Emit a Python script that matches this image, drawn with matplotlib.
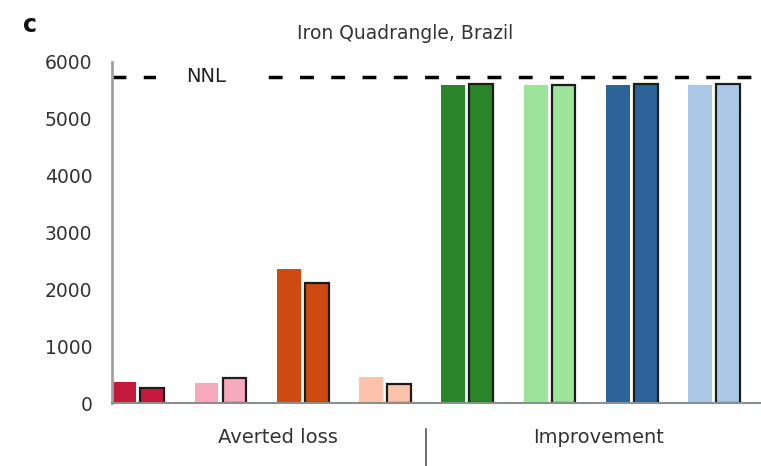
import matplotlib
matplotlib.use('Agg')
import matplotlib.pyplot as plt
import matplotlib.transforms as mtransforms
import numpy as np

# paired bars: first without outline, second outlined
groups = ['loss1', 'loss2', 'loss3', 'loss4', 'imp1', 'imp2', 'imp3', 'imp4']
first = [370, 350, 2350, 460, 5600, 5600, 5600, 5600]
second = [265, 440, 2120, 335, 5620, 5590, 5620, 5620]
colors = ['#c41a3c', '#f6a9ba', '#cd4a10', '#fbc2ac',
          '#2a842a', '#9ee39c', '#2c6499', '#aac8e5']
nnl = 5740
yticks = [0, 1000, 2000, 3000, 4000, 5000, 6000]
sections = ['Averted loss', 'Improvement']

plt.rcParams['font.family'] = ['DejaVu Sans']
fig = plt.figure(figsize=(7.61, 4.66), dpi=100)
ax = fig.add_axes([0.147, 0.135, 0.853, 0.732])

x = np.arange(len(groups))
w = 0.29
off = 0.17
ax.bar(x - off, first, w, color=colors, linewidth=0)
ax.bar(x + off, second, w, color=colors, edgecolor='#1c1c1c', linewidth=1.6)

ax.set_xlim(-0.32, 7.57)
ax.set_ylim(0, 6000)
ax.set_yticks(yticks)
ax.set_xticks([])
ax.tick_params(axis='y', length=0, pad=14, labelsize=13.5, labelcolor='#333333')

for s in ['top', 'right']:
    ax.spines[s].set_visible(False)
ax.spines['left'].set_color('#a0a0a0')
ax.spines['left'].set_linewidth(2)
ax.spines['bottom'].set_color('#8a9090')
ax.spines['bottom'].set_linewidth(1.5)

# no-net-loss reference line
ax.axhline(nnl, color='black', linestyle=(0, (4, 5)), linewidth=2.5, zorder=1)
ax.text(0.83, nnl, 'NNL', ha='center', va='center', fontsize=14, color='#222222',
        bbox=dict(facecolor='white', edgecolor='none', pad=22), zorder=2)

trans = mtransforms.blended_transform_factory(ax.transData, ax.transAxes)
ax.text(1.7, -0.1, sections[0], transform=trans, ha='center', va='center',
        fontsize=14, color='#333333')
ax.text(5.6, -0.1, sections[1], transform=trans, ha='center', va='center',
        fontsize=14, color='#333333')
ax.plot([3.5, 3.5], [-0.075, -0.2], transform=trans, color='#555555',
        linewidth=1.2, clip_on=False)

fig.text(0.532, 0.928, 'Iron Quadrangle, Brazil', ha='center', va='center',
         fontsize=13.5, color='#333333')
fig.text(0.039, 0.946, 'c', ha='center', va='center', fontsize=17,
         fontweight='bold', color='#111111')

fig.savefig('out.png', dpi=100)
